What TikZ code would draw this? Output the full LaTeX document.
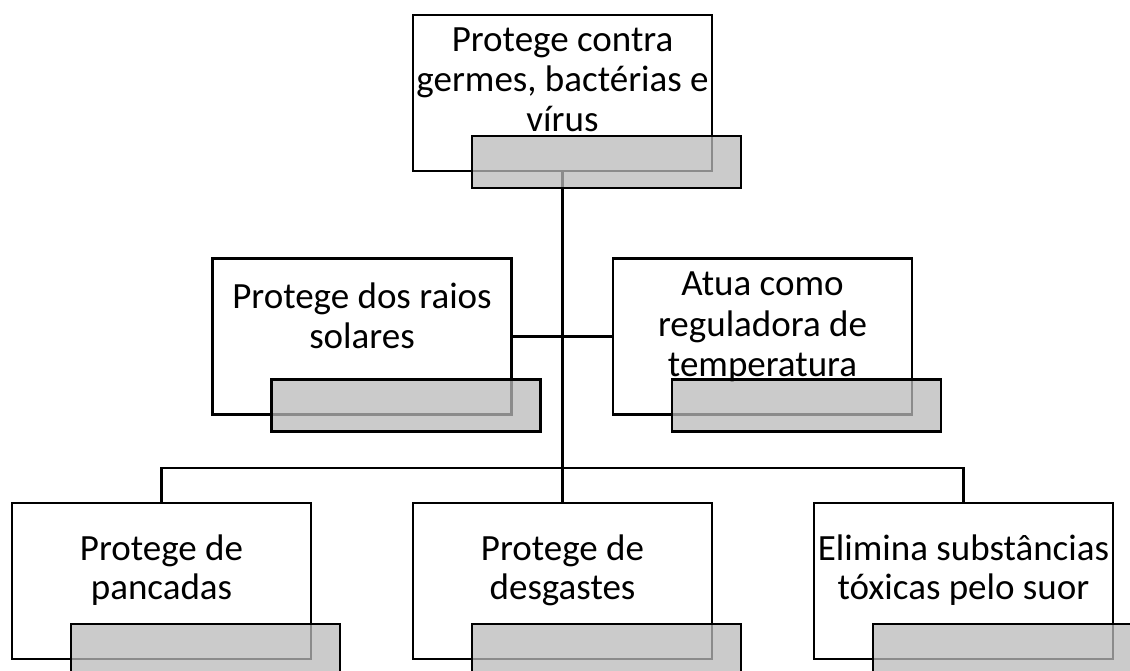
\documentclass[tikz,border=0pt]{standalone}
\usepackage{fontspec}
\setmainfont{Carlito}
\definecolor{shade}{gray}{0.73}
\begin{document}
\begin{tikzpicture}[x=1pt,y=-1pt,
  wbox/.style={draw=black,line width=2.4pt,fill=white,minimum width=299pt,minimum height=156pt,inner sep=0pt,outer sep=0pt},
  gbox/.style={draw=black,line width=2.4pt,fill=shade,fill opacity=0.75,draw opacity=1,minimum width=269pt,minimum height=52pt,inner sep=0pt,outer sep=0pt,anchor=north west},
  conn/.style={draw=black,line width=2.2pt},
  trunk/.style={draw=black,line width=3pt},
  txt/.style={anchor=base,inner sep=0pt,font=\fontsize{37}{40}\selectfont}]
\useasboundingbox (0,0) rectangle (1130,671);
\coordinate (bus) at (562.5,468);
\path (562.5,93) coordinate (ptop) (362,336.5) coordinate (plm) (762.5,336.5) coordinate (prm)
      (161.5,581) coordinate (pbl) (562.5,581) coordinate (pbm) (963.5,581) coordinate (pbr);
% white boxes
\node[wbox] (top) at (ptop) {};
\node[wbox] (lm) at (plm) {};
\node[wbox] (rm) at (prm) {};
\node[wbox] (bl) at (pbl) {};
\node[wbox] (bm) at (pbm) {};
\node[wbox] (br) at (pbr) {};
% connectors
\draw[trunk] (top.south) -- (bus);
\draw[conn] (lm.east) -- (rm.west);
\draw[conn] (bl.north) -- (bl.north |- bus) -- (br.north |- bus) -- (br.north);
\draw[conn] (bus) -- (bm.north);
% texts
\node[txt] (t1a) at (562.5,52) {Protege contra};
\node[txt] (t1b) at (562.5,92) {germes, bactérias e};
\node[txt] (t1c) at (562.5,132) {vírus};
\node[txt] (t2a) at (362,308) {Protege dos raios};
\node[txt] (t2b) at (362,348) {solares};
\node[txt] (t3a) at (762.5,295) {Atua como};
\node[txt] (t3b) at (762.5,336) {reguladora de};
\node[txt] (t3c) at (762.5,376) {temperatura};
\node[txt] (t4a) at (161.5,560) {Protege de};
\node[txt] (t4b) at (161.5,599) {pancadas};
\node[txt] (t5a) at (562.5,560) {Protege de};
\node[txt] (t5b) at (562.5,599) {desgastes};
\node[txt] (t6a) at (963.5,560) {Elimina substâncias};
\node[txt] (t6b) at (963.5,599) {tóxicas pelo suor};
% shaded boxes
\node[gbox] (topg) at ([xshift=59pt,yshift=35pt]top.south west) {};
\node[gbox] (lmg) at ([xshift=59pt,yshift=35pt]lm.south west) {};
\node[gbox] (rmg) at ([xshift=59pt,yshift=35pt]rm.south west) {};
\node[gbox] (blg) at ([xshift=59pt,yshift=35pt]bl.south west) {};
\node[gbox] (bmg) at ([xshift=59pt,yshift=35pt]bm.south west) {};
\node[gbox] (brg) at ([xshift=59pt,yshift=35pt]br.south west) {};
\end{tikzpicture}
\end{document}
